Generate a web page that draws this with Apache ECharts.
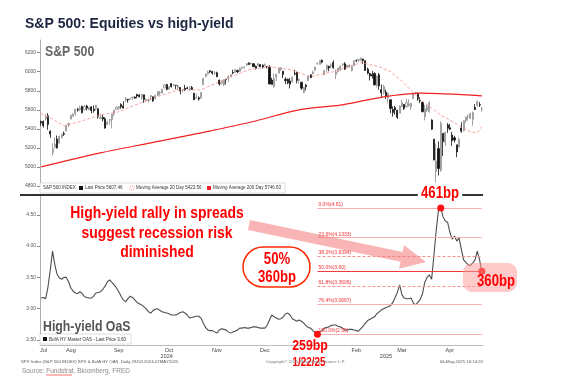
<!DOCTYPE html>
<html>
<head>
<meta charset="utf-8">
<script src="https://cdn.jsdelivr.net/npm/echarts@6/dist/echarts.min.js"></script>
<style>
html, body { margin: 0; padding: 0; background: #fff; }
#chart { width: 571px; height: 376px; }
</style>
</head>
<body>
<div id="chart"></div>
<script>
// trading days shown on both panels
var dates = [
  '2024-07-29','2024-07-30','2024-07-31',
  '2024-08-01','2024-08-02','2024-08-05','2024-08-06','2024-08-07','2024-08-08','2024-08-09','2024-08-12','2024-08-13','2024-08-14','2024-08-15','2024-08-16','2024-08-19','2024-08-20','2024-08-21','2024-08-22','2024-08-23','2024-08-26','2024-08-27','2024-08-28','2024-08-29','2024-08-30',
  '2024-09-03','2024-09-04','2024-09-05','2024-09-06','2024-09-09','2024-09-10','2024-09-11','2024-09-12','2024-09-13','2024-09-16','2024-09-17','2024-09-18','2024-09-19','2024-09-20','2024-09-23','2024-09-24','2024-09-25','2024-09-26','2024-09-27','2024-09-30',
  '2024-10-01','2024-10-02','2024-10-03','2024-10-04','2024-10-07','2024-10-08','2024-10-09','2024-10-10','2024-10-11','2024-10-14','2024-10-15','2024-10-16','2024-10-17','2024-10-18','2024-10-21','2024-10-22','2024-10-23','2024-10-24','2024-10-25','2024-10-28','2024-10-29','2024-10-30','2024-10-31',
  '2024-11-01','2024-11-04','2024-11-05','2024-11-06','2024-11-07','2024-11-08','2024-11-11','2024-11-12','2024-11-13','2024-11-14','2024-11-15','2024-11-18','2024-11-19','2024-11-20','2024-11-21','2024-11-22','2024-11-25','2024-11-26','2024-11-27','2024-11-29',
  '2024-12-02','2024-12-03','2024-12-04','2024-12-05','2024-12-06','2024-12-09','2024-12-10','2024-12-11','2024-12-12','2024-12-13','2024-12-16','2024-12-17','2024-12-18','2024-12-19','2024-12-20','2024-12-23','2024-12-24','2024-12-26','2024-12-27','2024-12-30','2024-12-31',
  '2025-01-02','2025-01-03','2025-01-06','2025-01-07','2025-01-08','2025-01-10','2025-01-13','2025-01-14','2025-01-15','2025-01-16','2025-01-17','2025-01-21','2025-01-22','2025-01-23','2025-01-24','2025-01-27','2025-01-28','2025-01-29','2025-01-30','2025-01-31',
  '2025-02-03','2025-02-04','2025-02-05','2025-02-06','2025-02-07','2025-02-10','2025-02-11','2025-02-12','2025-02-13','2025-02-14','2025-02-18','2025-02-19','2025-02-20','2025-02-21','2025-02-24','2025-02-25','2025-02-26','2025-02-27','2025-02-28',
  '2025-03-03','2025-03-04','2025-03-05','2025-03-06','2025-03-07','2025-03-10','2025-03-11','2025-03-12','2025-03-13','2025-03-14','2025-03-17','2025-03-18','2025-03-19','2025-03-20','2025-03-21','2025-03-24','2025-03-25','2025-03-26','2025-03-27','2025-03-28','2025-03-31',
  '2025-04-01','2025-04-02','2025-04-03','2025-04-04','2025-04-07','2025-04-08','2025-04-09','2025-04-10','2025-04-11','2025-04-14','2025-04-15','2025-04-16','2025-04-17','2025-04-21','2025-04-22','2025-04-23','2025-04-24','2025-04-25','2025-04-28','2025-04-29','2025-04-30',
  '2025-05-01','2025-05-02','2025-05-05','2025-05-06'
];

// S&P 500 daily candles: [open, close, low, high]
var spx = [
  [5476,5464,5434,5487],[5478,5436,5413,5489],[5505,5522,5488,5551],
  [5537,5447,5390,5566],[5376,5347,5305,5383],[5151,5186,5119,5250],[5206,5240,5193,5312],[5294,5200,5192,5330],[5250,5319,5250,5328],[5311,5344,5297,5350],[5352,5344,5325,5372],[5376,5434,5376,5436],[5442,5455,5420,5464],[5502,5543,5502,5546],[5531,5554,5531,5563],[5557,5608,5537,5609],[5602,5597,5581,5621],[5603,5621,5586,5643],[5637,5571,5561,5643],[5602,5635,5593,5651],[5640,5617,5594,5652],[5603,5626,5594,5628],[5629,5592,5562,5639],[5607,5592,5570,5646],[5613,5648,5593,5651],
  [5612,5529,5506,5613],[5506,5520,5503,5552],[5521,5503,5478,5546],[5507,5408,5402,5523],[5443,5471,5443,5484],[5491,5496,5442,5502],[5496,5554,5406,5560],[5557,5596,5535,5600],[5604,5626,5604,5637],[5616,5633,5602,5636],[5655,5635,5611,5670],[5641,5618,5616,5690],[5702,5714,5683,5734],[5709,5703,5675,5716],[5711,5719,5704,5722],[5727,5733,5702,5735],[5733,5722,5717,5742],[5762,5745,5721,5767],[5755,5738,5729,5764],[5727,5762,5704,5765],
  [5758,5709,5674,5758],[5698,5710,5681,5720],[5698,5700,5675,5718],[5737,5751,5703,5753],[5737,5696,5683,5739],[5719,5751,5709,5757],[5751,5792,5744,5797],[5778,5780,5751,5796],[5775,5815,5775,5822],[5829,5860,5829,5871],[5866,5815,5804,5871],[5817,5842,5810,5843],[5875,5841,5835,5878],[5859,5865,5846,5870],[5858,5854,5816,5861],[5833,5851,5808,5863],[5835,5797,5762,5835],[5810,5810,5784,5817],[5827,5808,5797,5862],[5830,5824,5820,5843],[5816,5833,5795,5847],[5833,5814,5811,5851],[5775,5705,5703,5776],
  [5723,5729,5713,5772],[5725,5713,5696,5741],[5722,5783,5718,5784],[5864,5929,5864,5936],[5947,5973,5945,5983],[5977,5996,5970,6012],[6009,6001,5986,6018],[6003,5984,5969,6009],[5985,5985,5964,6008],[5990,5949,5942,6000],[5912,5871,5854,5916],[5874,5894,5866,5909],[5863,5917,5850,5920],[5918,5917,5866,5925],[5926,5949,5890,5963],[5947,5969,5947,5973],[5992,5987,5973,6021],[5992,6022,5992,6026],[6014,5999,5985,6021],[6003,6032,6003,6045],
  [6040,6047,6024,6053],[6042,6050,6034,6053],[6069,6086,6060,6087],[6089,6075,6074,6100],[6082,6090,6077,6099],[6084,6053,6048,6089],[6057,6035,6024,6065],[6060,6084,6060,6093],[6075,6051,6050,6080],[6068,6051,6034,6078],[6063,6074,6059,6086],[6053,6051,6035,6057],[6047,5872,5867,6070],[5913,5867,5866,5935],[5842,5931,5832,5982],[5941,5974,5903,5978],[5985,6040,5983,6040],[6024,6038,6007,6049],[6006,5971,5932,6006],[5920,5907,5870,5941],[5920,5882,5869,5929],
  [5903,5869,5824,5935],[5892,5942,5888,5949],[5982,5975,5960,6022],[5994,5909,5877,6000],[5911,5918,5874,5927],[5890,5827,5809,5890],[5782,5836,5773,5838],[5859,5843,5804,5871],[5905,5950,5905,5960],[5967,5937,5934,5965],[5976,5997,5976,6011],[6015,6049,6008,6052],[6082,6086,6074,6100],[6076,6119,6075,6119],[6121,6101,6088,6128],[5970,6012,5962,6018],[6026,6068,5994,6074],[6058,6039,6004,6062],[6064,6071,6037,6087],[6096,6041,6031,6120],
  [5969,5995,5924,6022],[5999,6038,5991,6042],[6020,6061,6008,6062],[6072,6084,6055,6085],[6083,6026,6020,6101],[6047,6066,6044,6074],[6050,6069,6045,6076],[6013,6052,6003,6062],[6061,6115,6061,6117],[6116,6115,6101,6128],[6121,6130,6100,6130],[6118,6144,6112,6147],[6134,6118,6079,6135],[6115,6013,6009,6118],[6027,5983,5973,6044],[5982,5955,5908,5988],[5971,5956,5929,6009],[5982,5862,5858,5994],[5857,5955,5837,5959],
  [5969,5850,5810,5987],[5812,5778,5732,5866],[5782,5843,5761,5861],[5785,5739,5713,5812],[5726,5770,5667,5783],[5706,5615,5565,5706],[5604,5572,5529,5636],[5624,5599,5547,5642],[5595,5522,5505,5598],[5563,5639,5563,5646],[5635,5675,5629,5704],[5655,5615,5598,5660],[5633,5675,5622,5715],[5646,5663,5632,5712],[5630,5668,5597,5670],[5718,5768,5718,5776],[5775,5777,5765,5788],[5771,5712,5694,5784],[5696,5693,5671,5732],[5679,5581,5572,5686],[5527,5612,5489,5651],
  [5597,5633,5576,5651],[5580,5671,5572,5695],[5492,5397,5391,5500],[5292,5074,5069,5292],[4953,5062,4835,5246],[5193,4983,4910,5267],[4965,5457,4948,5481],[5353,5268,5115,5353],[5256,5363,5220,5370],[5441,5406,5358,5460],[5411,5397,5387,5451],[5335,5276,5221,5368],[5306,5283,5255,5328],[5232,5158,5101,5233],[5208,5288,5208,5310],[5409,5376,5359,5470],[5382,5485,5372,5490],[5489,5525,5465,5528],[5529,5529,5484,5553],[5509,5561,5506,5571],[5499,5569,5433,5582],
  [5625,5604,5597,5659],[5646,5687,5632,5700],[5655,5650,5629,5683],[5605,5607,5579,5634]
];

// moving averages: [date, value]
var ma20 = [
  ['2024-07-29',5558],['2024-08-02',5516],['2024-08-12',5432],['2024-08-20',5470],['2024-09-04',5547],
  ['2024-09-16',5580],['2024-10-03',5705],['2024-10-22',5810],['2024-11-05',5810],['2024-11-15',5895],
  ['2024-12-05',6021],['2024-12-18',6053],['2025-01-02',6021],['2025-01-16',5947],['2025-01-31',6000],
  ['2025-02-19',6095],['2025-03-03',6053],['2025-03-10',6000],['2025-03-17',5900],['2025-03-27',5705],
  ['2025-04-09',5547],['2025-04-23',5421],['2025-04-29',5368],['2025-05-02',5360],['2025-05-06',5423]
];
var ma200 = [
  ['2024-07-29',5000],['2024-09-04',5147],['2024-10-04',5253],['2024-11-05',5358],['2024-12-06',5472],
  ['2025-01-08',5600],['2025-02-05',5650],['2025-02-24',5705],['2025-03-10',5747],['2025-03-27',5775],
  ['2025-05-06',5747]
];

// ICE BofA US High Yield OAS, %
var oas = [
  3.17,3.18,3.16,3.35,3.62,3.92,3.70,3.55,3.49,3.47,
  3.50,3.50,3.43,3.33,3.28,3.25,3.24,3.27,3.24,3.19,
  3.18,3.17,3.17,3.20,3.25,3.26,3.27,3.31,3.36,3.43,
  3.46,3.42,3.38,3.33,3.27,3.20,3.14,3.11,3.16,3.20,
  3.18,3.14,3.10,3.08,3.06,3.03,3.00,2.95,2.93,2.97,
  2.99,3.00,2.97,2.95,2.94,2.93,2.92,2.90,2.90,2.90,
  2.92,2.94,2.95,2.93,2.90,2.85,2.86,2.87,2.88,2.88,
  2.85,2.77,2.70,2.66,2.65,2.65,2.63,2.61,2.66,2.68,
  2.67,2.66,2.63,2.61,2.63,2.64,2.66,2.69,2.69,2.70,
  2.69,2.69,2.70,2.71,2.71,2.70,2.69,2.69,2.69,2.74,
  2.82,2.90,2.87,2.85,2.83,2.84,2.87,2.92,2.93,2.90,
  2.84,2.82,2.80,2.82,2.80,2.77,2.73,2.70,2.69,2.65,
  2.62,2.59,2.63,2.65,2.69,2.70,2.71,2.73,2.74,2.74,
  2.72,2.71,2.69,2.66,2.66,2.67,2.67,2.66,2.65,2.64,
  2.68,2.72,2.77,2.81,2.83,2.85,2.87,2.92,2.95,2.98,
  3.00,3.02,3.03,3.05,3.10,3.18,3.26,3.38,3.22,3.17,
  3.16,3.16,3.17,3.09,3.06,3.10,3.15,3.24,3.42,3.50,
  3.54,3.47,3.85,4.25,4.58,4.61,4.47,4.40,4.38,4.22,
  4.11,4.16,4.08,4.13,3.95,3.78,3.74,3.70,3.69,3.73,
  3.78,3.92,3.78,3.60
];

// fibonacci retracement from the 1/22/25 low to the April high
var fibNames = ['0.0%', '23.6%', '38.2%', '50.0%', '61.8%', '76.4%', '100.0%'];
var fibLevels = ['4.61', '4.1333', '3.8394', '3.60', '3.3606', '3.0667', '2.59'];
var fibFrom = '2025-01-22';

// axis labels
var monthStart = [3, 25, 45, 68, 88, 109, 129, 148, 169, 190];
var monthLabelIdx = [1, 13, 34, 56, 77, 98, 138, 158, 179];
var monthNames = ['Jul', 'Aug', 'Sep', 'Oct', 'Nov', 'Dec', 'Feb', 'Mar', 'Apr'];
var yearIdx = [55, 151];
var yearNames = ['2024', '2025'];

var lastDate = dates[dates.length - 1];
var peakDate = '2025-04-09';

var myChart = echarts.init(document.getElementById('chart'));

var FONT = '"Liberation Sans", Arial, sans-serif';

// narrow bold annotation text (Arial Narrow look)
function narrow(text, x, y, size, color, align, extra) {
    var el = {
        type: 'text', x: x, y: y, scaleX: 0.82, z: 100,
        style: {
            text: text, fill: color, font: 'bold ' + size + 'px ' + FONT,
            align: align || 'center', verticalAlign: 'middle'
        }
    };
    if (extra) Object.assign(el.style, extra);
    return el;
}
function small(text, x, y, size, color, align) {
    return {
        type: 'text', x: x, y: y, z: 100,
        style: { text: text, fill: color || '#333', font: size + 'px ' + FONT, align: align || 'left', verticalAlign: 'middle' }
    };
}

// pink arrow shape
var S = [249, 225], T = [426, 262];
var dx = T[0] - S[0], dy = T[1] - S[1], len = Math.sqrt(dx * dx + dy * dy);
var ux = dx / len, uy = dy / len, nx = -uy, ny = ux;
var B = [T[0] - ux * 25, T[1] - uy * 25];
function pt(p, k) { return [p[0] + nx * k, p[1] + ny * k]; }
var arrowPts = [pt(S, 5), pt(B, 5), pt(B, 12), T, pt(B, -12), pt(B, -5), pt(S, -5)];

var fibLines = fibLevels.map(function (lv, i) {
    var dashed = (i === 2 || i === 4);
    var mid = (i === 3);
    return [{
        coord: [fibFrom, +lv],
        lineStyle: { color: mid ? '#f23b3b' : (dashed ? '#f58f8f' : '#f7b0b0'), width: 1, type: dashed ? [3, 2] : 'solid' },
        label: { show: true, formatter: fibNames[i] + '(' + lv + ')', position: 'insideStartTop', distance: 1, fontSize: 5, color: '#f03030', fontFamily: FONT }
    }, { coord: [lastDate, +lv] }];
});

function sideTag(v, text, bg) {
    return {
        yAxis: v,
        lineStyle: { opacity: 0 },
        label: { show: true, position: 'start', distance: 2, formatter: text, backgroundColor: bg, color: '#fff', fontSize: 5, padding: [1, 2], borderRadius: 1, fontFamily: FONT }
    };
}

var option = {
    animation: false,
    backgroundColor: '#fff',
    grid: [
        { left: 40, right: 88, top: 40, height: 146 },
        { left: 40, right: 88, top: 196, height: 144 }
    ],
    xAxis: [
        { gridIndex: 0, type: 'category', data: dates, show: false },
        {
            gridIndex: 1, type: 'category', data: dates, position: 'bottom', offset: 5,
            axisLine: { lineStyle: { color: '#aaa', width: 0.8 } },
            axisTick: { interval: function (i) { return monthStart.indexOf(i) >= 0; }, length: 2, lineStyle: { color: '#999' } },
            axisLabel: {
                interval: function (i) { return monthLabelIdx.indexOf(i) >= 0; },
                formatter: function (v, i) { return monthNames[monthLabelIdx.indexOf(i)]; },
                fontSize: 5.5, color: '#444', margin: 2, fontFamily: FONT
            }
        },
        {
            gridIndex: 1, type: 'category', data: dates, position: 'bottom', offset: 11,
            axisLine: { show: false }, axisTick: { show: false },
            axisLabel: {
                interval: function (i) { return yearIdx.indexOf(i) >= 0; },
                formatter: function (v, i) { return yearNames[yearIdx.indexOf(i)]; },
                fontSize: 5.5, color: '#444', margin: 2, fontFamily: FONT
            }
        }
    ],
    yAxis: [
        {
            gridIndex: 0, type: 'value', min: 4800, max: 6333, interval: 200,
            axisLine: { show: true, lineStyle: { color: '#999', width: 0.8 } },
            axisTick: { show: true, length: 3, lineStyle: { color: '#888' } },
            splitLine: { show: false },
            axisLabel: { fontSize: 5, color: '#555', margin: 4, showMaxLabel: false, fontFamily: FONT,
                formatter: function (v) { return String(v); } }
        },
        {
            gridIndex: 1, type: 'value', min: 2.5, max: 4.8, interval: 0.5,
            axisLine: { show: true, lineStyle: { color: '#999', width: 0.8 } },
            axisTick: { show: true, length: 3, lineStyle: { color: '#888' } },
            splitLine: { show: false },
            axisLabel: { fontSize: 5, color: '#555', margin: 4, showMaxLabel: false, fontFamily: FONT,
                formatter: function (v) { return v.toFixed(2); } }
        }
    ],
    series: [
        {
            type: 'candlestick', xAxisIndex: 0, yAxisIndex: 0, data: spx,
            barWidth: '70%',
            itemStyle: { color: '#ffffff', color0: '#111', borderColor: '#8c8c8c', borderColor0: '#111', borderWidth: 0.8 },
            markLine: {
                silent: true, symbol: 'none',
                data: [
                    sideTag(5746.63, '5746.63', '#e8231f'),
                    sideTag(5607.46, '5607.46', '#111'),
                    sideTag(5423.56, '5423.56', '#e8231f')
                ]
            }
        },
        {
            type: 'line', xAxisIndex: 0, yAxisIndex: 0, symbol: 'none', z: 3,
            data: ma20.map(function (d) { return [dates.indexOf(d[0]), d[1]]; }),
            lineStyle: { color: '#f58a8a', width: 0.8, type: [3, 2] }
        },
        {
            type: 'line', xAxisIndex: 0, yAxisIndex: 0, symbol: 'none', z: 3, smooth: 0.3,
            data: ma200.map(function (d) { return [dates.indexOf(d[0]), d[1]]; }),
            lineStyle: { color: '#f22020', width: 1.2 }
        },
        {
            type: 'line', xAxisIndex: 1, yAxisIndex: 1, symbol: 'none', data: oas, z: 4,
            lineStyle: { color: '#4d4d4d', width: 1.1 },
            markLine: {
                silent: true, symbol: 'none',
                data: fibLines.concat([sideTag(3.60, '3.60', '#111')])
            },
            markPoint: {
                symbol: 'circle', symbolSize: 7, silent: true,
                itemStyle: { color: '#ff1010' },
                label: { show: false },
                data: [
                    { coord: [fibFrom, 2.59] },
                    { coord: [peakDate, 4.61] },
                    { coord: [lastDate, 3.60] }
                ]
            }
        }
    ],
    graphic: [
        // title
        { type: 'text', x: 25, y: 24, z: 100, style: { text: 'S&P 500: Equities vs high-yield', fill: '#1c2541', font: 'bold 14px ' + FONT, align: 'left', verticalAlign: 'middle' } },
        narrow('S&P 500', 45, 52, 15, '#666', 'left'),

        // top legend
        { type: 'rect', z: 99, shape: { x: 40, y: 183, width: 245, height: 10 }, style: { fill: '#fff', stroke: '#c8c8c8', lineWidth: 0.6 } },
        small('S&P 500 INDEX', 43, 188, 4.5, '#333'),
        { type: 'rect', z: 100, shape: { x: 79, y: 186, width: 4, height: 4 }, style: { fill: '#111' } },
        small('Last Price 5607.46', 85, 188, 4.5, '#333'),
        { type: 'rect', z: 100, shape: { x: 130, y: 186, width: 4, height: 4 }, style: { fill: 'none', stroke: '#f08080', lineWidth: 0.7, lineDash: [1, 1] } },
        small('Moving Average 20 Day 5423.56', 136, 188, 4.5, '#333'),
        { type: 'rect', z: 100, shape: { x: 207, y: 186, width: 4, height: 4 }, style: { fill: '#f22020' } },
        small('Moving Average 200 Day 5746.63', 213, 188, 4.5, '#333'),

        // panel separator
        { type: 'line', z: 100, shape: { x1: 20, y1: 195, x2: 483, y2: 195 }, style: { stroke: '#333', lineWidth: 2 } },

        // bottom legend
        { type: 'rect', z: 99, shape: { x: 40, y: 334, width: 91, height: 10 }, style: { fill: '#fff', stroke: '#c8c8c8', lineWidth: 0.6 } },
        { type: 'rect', z: 100, shape: { x: 43, y: 337, width: 4, height: 4 }, style: { fill: '#111' } },
        small('BofA HY Master OAS - Last Price 3.60', 49, 339.5, 4.5, '#333'),
        narrow('High-yield OaS', 43, 327, 15, '#555', 'left'),

        // arrow
        { type: 'polygon', z: 90, shape: { points: arrowPts }, style: { fill: 'rgba(244,120,120,0.55)' } },

        // main message
        narrow('High-yield rally in spreads', 157, 213, 17, '#ff0000'),
        narrow('suggest recession risk', 157, 233, 17, '#ff0000'),
        narrow('diminished', 157, 252, 17, '#ff0000'),

        // 50% callout
        { type: 'rect', z: 100, shape: { x: 243, y: 247, width: 67, height: 40, r: 20 }, style: { fill: 'none', stroke: '#ff2a00', lineWidth: 1.5 } },
        narrow('50%', 277, 260, 16, '#ff0000'),
        narrow('360bp', 277, 278, 16, '#ff0000'),

        // point callouts
        narrow('461bp', 440, 194, 16, '#ff0000', 'center', { backgroundColor: '#fff', padding: [0, 4] }),
        { type: 'rect', z: 95, shape: { x: 463, y: 263, width: 54, height: 29, r: 9 }, style: { fill: 'rgba(255,150,150,0.5)' } },
        narrow('360bp', 496, 282, 16, '#ff0000'),
        narrow('259bp', 310, 346, 15, '#ff0000'),
        narrow('1/22/25', 309, 363, 12, '#ff0000'),

        // footer
        small('SPX Index (S&P 500 INDEX) SPX & BofA HY OAS  Daily 29JUL2024-07MAY2025', 21, 362, 4.3, '#555'),
        small('Copyright\u00a9 2025 Bloomberg Finance L.P.', 266, 362, 4.3, '#777'),
        small('06-May-2025 16:14:24', 483, 362, 4.3, '#555', 'right'),
        small('Source: Fundstrat, Bloomberg, FRED', 22, 371, 6.5, '#8a8a8a'),
        { type: 'line', z: 100, shape: { x1: 46, y1: 375, x2: 72, y2: 375 }, style: { stroke: '#ff3030', lineWidth: 0.7 } }
    ]
};

myChart.setOption(option);
</script>
</body>
</html>
